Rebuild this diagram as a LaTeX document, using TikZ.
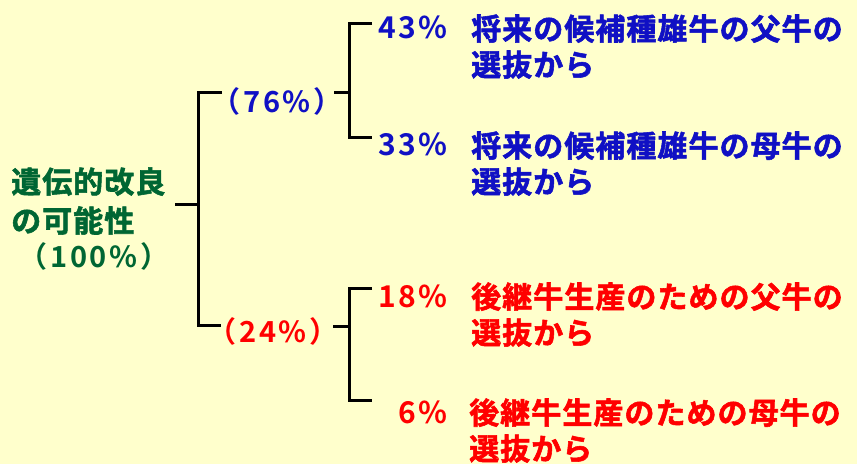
\documentclass[tikz,border=0pt]{standalone}
\usepackage{fontspec}
\newfontfamily\jp{Noto Sans CJK JP}[BoldFont={Noto Sans CJK JP Bold}, BoldFeatures={FakeBold=1.8}, LetterSpace=3.5]
\newfontfamily\jpnum{Noto Sans CJK JP}[BoldFont={Noto Sans CJK JP Bold}, LetterSpace=9]
\definecolor{bgyellow}{RGB}{255,255,204}
\definecolor{tgreen}{RGB}{0,102,51}
\definecolor{tblue}{RGB}{16,16,196}
\definecolor{tred}{RGB}{255,0,0}
\tikzset{
  lbl/.style={inner sep=0pt, font=\jp\bfseries\fontsize{30}{36}\selectfont, align=left, anchor=base west},
  pct/.style={inner sep=0pt, font=\jpnum\bfseries\fontsize{30}{34}\selectfont, anchor=base east},
  par/.style={inner sep=0pt, font=\jpnum\bfseries\fontsize{29}{34}\selectfont, anchor=base},
  tree/.style={line width=3pt, black},
}
\begin{document}
\begin{tikzpicture}[x=1pt, y=-1pt]
\fill[bgyellow] (0,0) rectangle (857,464);
\useasboundingbox (0,0) rectangle (857,464);
% root (base anchor = baseline of last line)
\node[lbl, text=tgreen, font=\jp\bfseries\fontsize{30}{39}\selectfont] (root) at (11,232) {遺伝的改良\\の可能性};
\node[par, text=tgreen] (rootp) at (94,267) {（100\%）};
% second level
\node[par, text=tblue] (p76) at (277,112) {（76\%）};
\node[par, text=tred] (p24) at (273,342) {（24\%）};
% leaves
\node[pct, text=tblue] (p43) at (448,38) {43\%};
\node[lbl, text=tblue] (t43) at (471,76) {将来の候補種雄牛の父牛の\\選抜から};
\node[pct, text=tblue] (p33) at (448,155) {33\%};
\node[lbl, text=tblue] (t33) at (471,193) {将来の候補種雄牛の母牛の\\選抜から};
\node[pct, text=tred] (p18) at (448,307) {18\%};
\node[lbl, text=tred] (t18) at (471,344) {後継牛生産のための父牛の\\選抜から};
\node[pct, text=tred] (p6) at (448,423) {6\%};
\node[lbl, text=tred] (t6) at (469,460) {後継牛生産のための母牛の\\選抜から};
% connector coordinates
\coordinate (r0) at (175,204);
\coordinate (j0) at (198,204);
\coordinate (j0t) at (198,92);
\coordinate (j0b) at (198,325);
\coordinate (a76) at (222,92);
\coordinate (a24) at (221,325);
\coordinate (b76) at (334,92);
\coordinate (j1) at (349,92);
\coordinate (j1t) at (349,23);
\coordinate (j1b) at (349,137);
\coordinate (c43) at (372,23);
\coordinate (c33) at (372,137);
\coordinate (b24) at (333,326);
\coordinate (j2) at (349,326);
\coordinate (j2t) at (349,288);
\coordinate (j2b) at (349,400);
\coordinate (c18) at (372,288);
\coordinate (c6) at (372,400);
% connectors
\draw[tree] (r0) -- (j0);
\draw[tree] (a76) -- (j0t) -- (j0b) -- (a24);
\draw[tree] (b76) -- (j1);
\draw[tree] (c43) -- (j1t) -- (j1b) -- (c33);
\draw[tree] (b24) -- (j2);
\draw[tree] (c18) -- (j2t) -- (j2b) -- (c6);
\end{tikzpicture}
\end{document}
